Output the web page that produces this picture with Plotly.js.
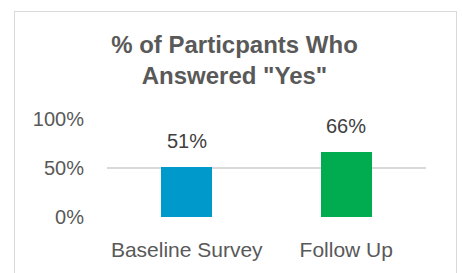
<!DOCTYPE html>
<html><head><meta charset="utf-8">
<script src="https://cdn.plot.ly/plotly-3.0.1.min.js"></script>
<style>
html,body{margin:0;padding:0;background:#fff;}
#wrap{position:relative;width:462px;height:273px;overflow:hidden;}
#chart{position:absolute;left:0;top:0;width:462px;height:273px;}
#frame{position:absolute;left:14px;top:11px;width:441px;height:300px;border:1px solid #d9d9d9;pointer-events:none;}
</style></head>
<body><div id="wrap"><div id="chart"></div><div id="frame"></div></div>
<script>
const categories = ["Baseline Survey", "Follow Up"];
const values = [0.51, 0.66];
const barColors = ["#0099cc", "#00ac4f"];
const valueLabels = ["51%", "66%"];
const titleText = '% of Particpants Who<br>Answered "Yes"';

const font = "Liberation Sans, Arial, sans-serif";
const data = [{
  type: "bar", x: categories, y: values,
  marker: {color: barColors}, width: 0.32,
  hoverinfo: "none"
}];
const annotations = categories.map((c, i) => ({
  x: c, y: values[i], text: valueLabels[i], showarrow: false,
  yanchor: "bottom", yshift: 13,
  font: {family: font, size: 20, color: "#404040"}
}));
const layout = {
  width: 462, height: 273,
  margin: {l: 107, r: 36, t: 119, b: 56},
  paper_bgcolor: "#fff", plot_bgcolor: "#fff",
  showlegend: false,
  title: {text: titleText, x: 234.5/462, xref: "container", xanchor: "center",
          y: 1 - 53/273, yref: "container", yanchor: "middle",
          font: {family: font, size: 24, color: "#595959", weight: "bold"}},
  xaxis: {type: "category", showgrid: false, showline: false, zeroline: false,
          ticks: "", ticklabelstandoff: 18,
          tickfont: {family: font, size: 21, color: "#595959"}},
  yaxis: {range: [0, 1], dtick: 0.5, tickformat: ".0%", showgrid: true,
          gridcolor: "#d9d9d9", gridwidth: 1.5, zeroline: false, showline: false,
          ticks: "", ticklabelstandoff: 22,
          tickfont: {family: font, size: 20, color: "#595959"}},
  annotations: annotations,
  bargap: 0
};
Plotly.newPlot("chart", data, layout, {staticPlot: true, displayModeBar: false});
</script></body></html>
